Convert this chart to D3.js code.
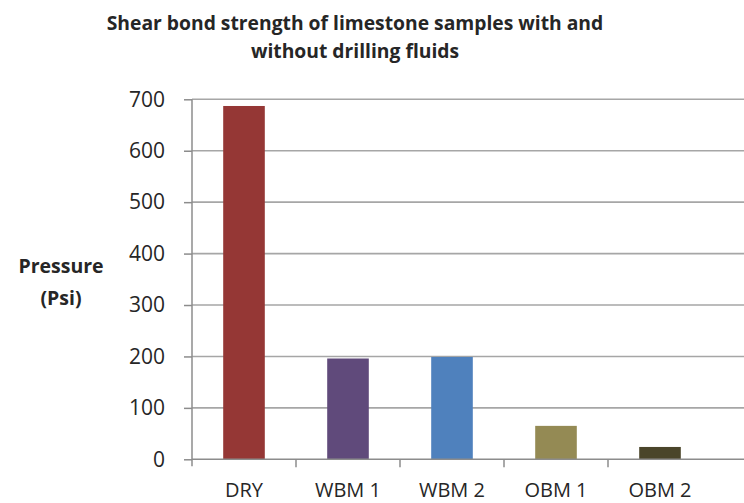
<!DOCTYPE html>
<html><head><meta charset="utf-8">
<script src="https://cdn.jsdelivr.net/npm/d3@7"></script>
<style>body{margin:0;background:#fff}</style>
</head><body><svg id="c" width="744" height="503"></svg>
<script>
const categories = ["DRY","WBM 1","WBM 2","OBM 1","OBM 2"];
const values = [687, 196, 199, 65, 24];
const colors = ["#953735","#604A7B","#4F81BD","#948A54","#4A452A"];
const yTicks = [0,100,200,300,400,500,600,700];
const titleLines = ["Shear bond strength of limestone samples with and","without drilling fluids"];
const yTitle = ["Pressure","(Psi)"];

const svg = d3.select("#c");
const pLeft = 192, pRight = 712, pTop = 99.3, pBottom = 459.3;
const x = d3.scaleBand().domain(categories).range([pLeft, pRight]).paddingInner(0.6).paddingOuter(0.3);
const y = d3.scaleLinear().domain([0,700]).range([pBottom, pTop]);
const font = "'Open Sans', sans-serif";
const txt = "#262626", axc = "#8c8c8c";

// gridlines
svg.append("g").selectAll("line").data(yTicks.filter(d=>d>0)).join("line")
  .attr("x1", pLeft).attr("x2", 744).attr("y1", d=>y(d)).attr("y2", d=>y(d))
  .attr("stroke", "#a6a6a6").attr("stroke-width", 1.6);

// bars
svg.append("g").selectAll("rect").data(values).join("rect")
  .attr("x", (d,i)=>x(categories[i])).attr("width", x.bandwidth())
  .attr("y", d=>y(d)).attr("height", d=>pBottom - y(d))
  .attr("fill", (d,i)=>colors[i]);

// y axis
const yAxis = d3.axisLeft(y).tickValues(yTicks).tickSize(8).tickPadding(19);
const gy = svg.append("g").attr("transform", `translate(${pLeft},0)`).call(yAxis);
gy.select(".domain").attr("d", `M0,${pTop}V${pBottom+7}`).attr("stroke",axc).attr("stroke-width",1.5);
gy.selectAll(".tick line").attr("stroke",axc).attr("stroke-width",1.5);
gy.selectAll(".tick text").attr("font-family", font).attr("font-size", 21).attr("fill",txt);

// x axis
const gx = svg.append("g").attr("transform", `translate(0,${pBottom})`);
gx.append("line").attr("x1", pLeft).attr("x2", 744).attr("y1",0).attr("y2",0).attr("stroke",axc).attr("stroke-width",1.5);
const bounds = categories.map((c,i)=> pLeft + i*x.step()).slice(1);
gx.selectAll("line.tk").data(bounds).join("line").attr("class","tk")
  .attr("x1", d=>d).attr("x2", d=>d).attr("y1",0).attr("y2",8).attr("stroke",axc).attr("stroke-width",1.5);
gx.selectAll("text").data(categories).join("text")
  .attr("x", d=>x(d)+x.bandwidth()/2).attr("y", 38)
  .attr("text-anchor","middle").attr("font-family", font).attr("font-size", 20).attr("fill",txt)
  .text(d=>d);

// title
const t = svg.append("g");
titleLines.forEach((s,i)=>{
  t.append("text").attr("x", 355).attr("y", 30 + i*28).attr("text-anchor","middle")
   .attr("font-family", font).attr("font-weight", 700).attr("font-size", 19.3).attr("fill",txt).text(s);
});

// y title
yTitle.forEach((s,i)=>{
  svg.append("text").attr("x", 61).attr("y", 273 + i*32).attr("text-anchor","middle")
   .attr("font-family", font).attr("font-weight", 700).attr("font-size", 19.5).attr("fill",txt).text(s);
});
</script></body></html>
